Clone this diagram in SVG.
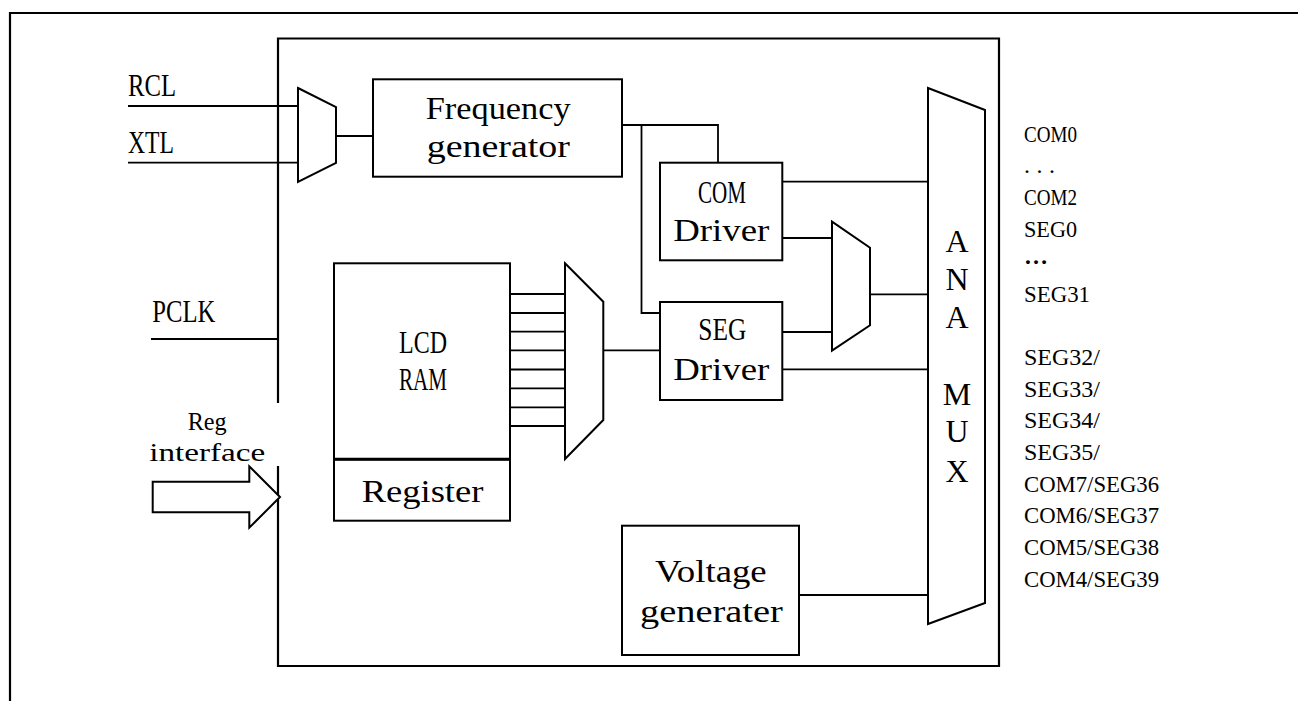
<svg xmlns="http://www.w3.org/2000/svg" width="1298" height="701" viewBox="0 0 1298 701">
<style>
.box{fill:#fff;stroke:#000;stroke-width:2}
.frame{fill:none;stroke:#000;stroke-width:2.2}
.w{fill:none;stroke:#000;stroke-width:1.8}
.t{font-family:"Liberation Serif","Times New Roman",serif;font-size:32px;fill:#000}
.s{font-family:"Liberation Serif","Times New Roman",serif;font-size:24px;fill:#000}
.r{font-family:"Liberation Serif","Times New Roman",serif;font-size:25px;fill:#000}
.c{text-anchor:middle}
</style>
<rect width="1298" height="701" fill="#fff"/>
<g id="frame">
<path class="frame" d="M10,701 V13 H1298"/>
</g>
<g id="chip">
<path class="frame" d="M278,403 V38.5 H999 V666 H278 V466"/>
</g>
<g id="connectors">
<path class="w" d="M128,106 H298"/>
<path class="w" d="M128,162.7 H298"/>
<path class="w" d="M336,136 H373"/>
<path class="w" d="M622,125 H718 V163"/>
<path class="w" d="M641.5,125 V313 H660"/>
<path class="w" d="M782,181.7 H928"/>
<path class="w" d="M782,238 H832"/>
<path class="w" d="M782,332 H832"/>
<path class="w" d="M870,294.3 H928"/>
<path class="w" d="M782,369.3 H928"/>
<path class="w" d="M603,350.3 H660"/>
<path class="w" d="M510,294 H565 M510,313 H565 M510,331.7 H565 M510,350.3 H565 M510,369.5 H565 M510,388.3 H565 M510,407.3 H565 M510,426 H565"/>
<path class="w" d="M799,595 H928"/>
<path class="w" d="M151,339 H279"/>
</g>
<g id="rcl"><text class="t" x="128" y="96" textLength="48" lengthAdjust="spacingAndGlyphs">RCL</text></g>
<g id="xtl"><text class="t" x="128" y="152.7" textLength="46" lengthAdjust="spacingAndGlyphs">XTL</text></g>
<g id="pclk"><text class="t" x="152.3" y="321.7" textLength="63" lengthAdjust="spacingAndGlyphs">PCLK</text></g>
<g id="reg-interface">
<path class="box" d="M152.7,481.7 H249.3 V466.3 L280,497 L249.3,527.7 V512.3 H152.7 Z"/>
<text class="r" x="187.7" y="430" textLength="39" lengthAdjust="spacingAndGlyphs">Reg</text>
<text class="r" x="149.3" y="460.7" textLength="116" lengthAdjust="spacingAndGlyphs">interface</text>
</g>
<g id="mux-clk">
<polygon class="box" points="298,88 336,107 336,163 298,182"/>
</g>
<g id="freq-gen">
<rect class="box" x="373" y="79.3" width="249" height="97.4"/>
<text class="t" x="425.7" y="119.3" textLength="145" lengthAdjust="spacingAndGlyphs">Frequency</text>
<text class="t" x="426.7" y="156.5" textLength="143.3" lengthAdjust="spacingAndGlyphs">generator</text>
</g>
<g id="com-driver">
<rect class="box" x="660" y="162.7" width="122.3" height="97.6"/>
<text class="t" x="698" y="202.7" textLength="48" lengthAdjust="spacingAndGlyphs">COM</text>
<text class="t" x="673.3" y="240.7" textLength="96" lengthAdjust="spacingAndGlyphs">Driver</text>
</g>
<g id="seg-driver">
<rect class="box" x="660" y="302" width="122.3" height="98"/>
<text class="t" x="698.3" y="340" textLength="48" lengthAdjust="spacingAndGlyphs">SEG</text>
<text class="t" x="673.3" y="380" textLength="96" lengthAdjust="spacingAndGlyphs">Driver</text>
</g>
<g id="mux-drv">
<polygon class="box" points="832,221.7 870,247.7 870,325.3 832,350.7"/>
</g>
<g id="lcd-ram">
<rect class="box" x="334" y="263.3" width="176" height="196"/>
<text class="t" x="399" y="352.7" textLength="48" lengthAdjust="spacingAndGlyphs">LCD</text>
<text class="t" x="399" y="390" textLength="48" lengthAdjust="spacingAndGlyphs">RAM</text>
</g>
<g id="register">
<rect class="box" x="334" y="459.3" width="176" height="61.4"/>
<path d="M334,459.3 H510" stroke="#000" stroke-width="3"/>
<text class="t" x="361.7" y="501.5" textLength="121.7" lengthAdjust="spacingAndGlyphs">Register</text>
</g>
<g id="mux-ram">
<polygon class="box" points="565,263.3 603.3,301.7 603.3,420 565,459"/>
</g>
<g id="voltage-gen">
<rect class="box" x="622" y="525.7" width="177" height="129.3"/>
<text class="t" x="655" y="581.7" textLength="111.7" lengthAdjust="spacingAndGlyphs">Voltage</text>
<text class="t" x="640" y="621.7" textLength="142.7" lengthAdjust="spacingAndGlyphs">generater</text>
</g>
<g id="ana-mux">
<polygon class="box" points="928,88 985,110 985,603 928,624"/>
<text class="t c" x="957" y="251.7">A</text>
<text class="t c" x="957" y="290">N</text>
<text class="t c" x="957" y="328.3">A</text>
<text class="t c" x="957" y="405">M</text>
<text class="t c" x="957" y="442">U</text>
<text class="t c" x="957" y="481.7">X</text>
</g>
<g id="pins">
<text class="s" x="1024" y="141.7" textLength="53" lengthAdjust="spacingAndGlyphs">COM0</text>
<text class="s" x="1024" y="173.3" textLength="31" lengthAdjust="spacing">...</text>
<text class="s" x="1024" y="205" textLength="53" lengthAdjust="spacingAndGlyphs">COM2</text>
<text class="s" x="1024" y="236.7" textLength="53" lengthAdjust="spacingAndGlyphs">SEG0</text>
<text class="s" x="1024" y="264" textLength="24" lengthAdjust="spacingAndGlyphs" font-weight="bold">…</text>
<text class="s" x="1024" y="301.7" textLength="66" lengthAdjust="spacingAndGlyphs">SEG31</text>
<text class="s" x="1024" y="365" textLength="76" lengthAdjust="spacingAndGlyphs">SEG32/</text>
<text class="s" x="1024" y="396.7" textLength="76" lengthAdjust="spacingAndGlyphs">SEG33/</text>
<text class="s" x="1024" y="428" textLength="76" lengthAdjust="spacingAndGlyphs">SEG34/</text>
<text class="s" x="1024" y="460" textLength="76" lengthAdjust="spacingAndGlyphs">SEG35/</text>
<text class="s" x="1024" y="491.7" textLength="135" lengthAdjust="spacingAndGlyphs">COM7/SEG36</text>
<text class="s" x="1024" y="523" textLength="135" lengthAdjust="spacingAndGlyphs">COM6/SEG37</text>
<text class="s" x="1024" y="555" textLength="135" lengthAdjust="spacingAndGlyphs">COM5/SEG38</text>
<text class="s" x="1024" y="586.7" textLength="135" lengthAdjust="spacingAndGlyphs">COM4/SEG39</text>
</g>
</svg>
